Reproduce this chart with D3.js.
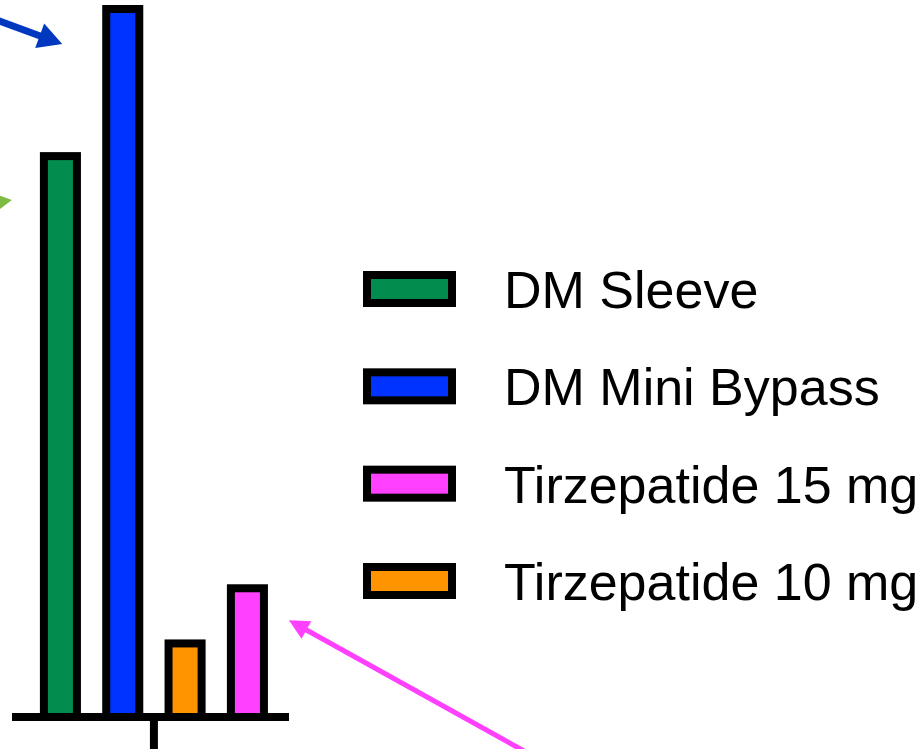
<!DOCTYPE html>
<html>
<head>
<meta charset="utf-8">
<script src="https://cdn.jsdelivr.net/npm/d3@7"></script>
<style>
  html, body { margin: 0; padding: 0; background: #fff; overflow: hidden; }
</style>
</head>
<body>
<div id="chart-area"></div>
<script>
// bar order on the axis
const groups = ['DM Sleeve', 'DM Mini Bypass', 'Tirzepatide 10 mg', 'Tirzepatide 15 mg'];
const values = [61, 77, 8, 14];
const colors = ['#028d4f', '#0033ff', '#ff9400', '#ff40ff'];
// legend order differs from bar order
const legendItems = ['DM Sleeve', 'DM Mini Bypass', 'Tirzepatide 15 mg', 'Tirzepatide 10 mg'];

let width = 922;
let height = 749;

let svg = d3
  .select('#chart-area')
  .append('svg')
  .attr('width', width)
  .attr('height', height);

let x = d3.scaleBand().domain(groups).range([12, 289]).paddingInner(0.47).paddingOuter(0.457).align(0.56);
let y = d3.scaleLinear().domain([0, 77]).range([717, 9]);
let color = d3.scaleOrdinal().domain(groups).range(colors);

let stroke = 8;

// arrows (annotations), drawn first so bars sit on top
function arrow(tail, tip, col, lw, headLen, headW) {
  let dx = tip[0] - tail[0],
    dy = tip[1] - tail[1];
  let len = Math.hypot(dx, dy);
  let ux = dx / len,
    uy = dy / len;
  let base = [tip[0] - ux * headLen, tip[1] - uy * headLen];
  svg
    .append('line')
    .attr('x1', tail[0])
    .attr('y1', tail[1])
    .attr('x2', base[0] + ux * 2)
    .attr('y2', base[1] + uy * 2)
    .attr('stroke', col)
    .attr('stroke-width', lw);
  let pts = [
    tip,
    [base[0] - uy * headW / 2, base[1] + ux * headW / 2],
    [base[0] + uy * headW / 2, base[1] - ux * headW / 2],
  ];
  svg.append('polygon').attr('points', pts.map((p) => p.join(',')).join(' ')).attr('fill', col);
}

let bx = (g) => x(g) - stroke / 2; // outer left edge of a bar
let by = (g) => y(values[groups.indexOf(g)]) - stroke / 2; // outer top edge

arrow([bx('DM Mini Bypass') - 160, by('DM Mini Bypass') - 5], [bx('DM Mini Bypass') - 40, by('DM Mini Bypass') + 39], '#0038c0', 7, 24, 26);
arrow([bx('DM Sleeve') - 120, by('DM Sleeve') + 62], [bx('DM Sleeve') - 28, by('DM Sleeve') + 48], '#7dbb42', 7, 24, 26);
arrow(
  [bx('Tirzepatide 15 mg') + x.bandwidth() + stroke + 280, by('Tirzepatide 15 mg') + 180],
  [bx('Tirzepatide 15 mg') + x.bandwidth() + stroke + 21, by('Tirzepatide 15 mg') + 36],
  '#ff40ff',
  5,
  20,
  20
);

// bars
svg
  .selectAll('rect.bar')
  .data(groups)
  .enter()
  .append('rect')
  .attr('class', 'bar')
  .attr('x', (d) => x(d))
  .attr('width', x.bandwidth())
  .attr('y', (d, i) => y(values[i]))
  .attr('height', (d, i) => y(0) - y(values[i]))
  .attr('fill', (d) => color(d))
  .attr('stroke', '#000')
  .attr('stroke-width', stroke);

// baseline and the single tick between the two groups
svg
  .append('line')
  .attr('x1', x.range()[0])
  .attr('x2', x.range()[1])
  .attr('y1', y(0))
  .attr('y2', y(0))
  .attr('stroke', '#000')
  .attr('stroke-width', stroke);

let tickX = (x('DM Mini Bypass') + x.bandwidth() + x('Tirzepatide 10 mg')) / 2;
svg
  .append('line')
  .attr('x1', tickX)
  .attr('x2', tickX)
  .attr('y1', y(0))
  .attr('y2', height + 5)
  .attr('stroke', '#000')
  .attr('stroke-width', stroke);

// legend
let legendY = d3.scalePoint().domain(legendItems).range([308, 600]);
let legend = svg
  .selectAll('g.legend')
  .data(legendItems)
  .enter()
  .append('g')
  .attr('class', 'legend')
  .attr('transform', (d) => `translate(0, ${legendY(d)})`);

legend
  .append('rect')
  .attr('x', 367)
  .attr('y', -33)
  .attr('width', 85)
  .attr('height', 28)
  .attr('fill', (d) => color(d))
  .attr('stroke', '#000')
  .attr('stroke-width', stroke);

legend
  .append('text')
  .attr('x', 504)
  .attr('y', 0)
  .style('font-family', '"Liberation Sans", Arial, sans-serif')
  .style('font-size', '52px')
  .attr('fill', '#000')
  .text((d) => d);
</script>
</body>
</html>
